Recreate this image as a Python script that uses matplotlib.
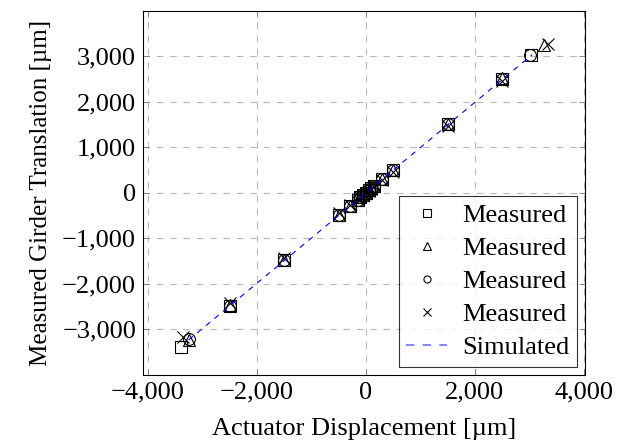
import matplotlib.pyplot as plt
from matplotlib.ticker import FuncFormatter

plt.rcParams['font.family'] = ['Liberation Serif', 'DejaVu Serif']

# Datos (um)
x_sq = [-3400, -2500, -1500, -500, -300, -150, -100, -50, 0, 50, 100, 150, 300, 500, 1500, 2500, 3030]
y_sq = [-3380, -2480, -1480, -480, -290, -150, -100, -50, 0, 50, 100, 150, 300, 500, 1500, 2500, 3020]

x_tri = [-3250, -2500, -1500, -500, -300, -150, -100, -50, 0, 50, 100, 150, 300, 500, 1500, 2500, 3260]
y_tri = [-3230, -2470, -1470, -480, -290, -150, -100, -50, 0, 50, 100, 150, 300, 510, 1510, 2510, 3240]

x_circ = [-3250, -2500, -1500, -500, -300, -150, -100, -50, 0, 50, 100, 150, 300, 500, 1500, 2500, 3020]
y_circ = [-3220, -2480, -1480, -480, -290, -150, -100, -50, 0, 50, 100, 150, 300, 500, 1500, 2500, 3020]

x_x = [-3350, -2500, -1500, -500, -300, -150, -100, -50, 0, 50, 100, 150, 300, 500, 1500, 2500, 3340]
y_x = [-3160, -2420, -1430, -440, -270, -140, -90, -45, 0, 45, 90, 140, 270, 460, 1460, 2450, 3260]

x_sim = [-3250, 3050]
y_sim = [-3230, 3030]

fig = plt.figure(figsize=(6.23, 4.48), dpi=100)
ax = fig.add_axes([0.2295, 0.163, 0.7095, 0.8124])

mk = dict(linestyle='none', color='black', markerfacecolor='none', markersize=8.5, markeredgewidth=0.8)
ax.plot(x_sq, y_sq, marker='s', label='Measured', **mk)
ax.plot(x_tri, y_tri, marker='^', label='Measured', **mk)
ax.plot(x_circ, y_circ, marker='o', label='Measured', **mk)
ax.plot(x_x, y_x, marker='x', label='Measured', **mk)
ax.plot(x_sim, y_sim, color='blue', linestyle=(0, (5, 5)), linewidth=0.8, label='Simulated')

ax.set_xlim(-4090, 4020)
ax.set_ylim(-4000, 3990)
ax.set_xticks([-4000, -2000, 0, 2000, 4000])
ax.set_yticks([-3000, -2000, -1000, 0, 1000, 2000, 3000])

fmt = FuncFormatter(lambda v, p: ('{:,.0f}'.format(v)).replace('-', '\u2212'))
ax.xaxis.set_major_formatter(fmt)
ax.yaxis.set_major_formatter(fmt)

ax.grid(True, color='#b8b8b8', linestyle=(0, (6, 6)), linewidth=0.8)
ax.tick_params(direction='in', top=True, right=True, length=4, width=0.6, color='#777777',
               labelsize=19, pad=5)
for s in ax.spines.values():
    s.set_linewidth(0.8)

ax.set_xlabel('Actuator Displacement [µm]', fontsize=19, labelpad=10)
ax.set_ylabel('Measured Girder Translation [µm]', fontsize=18, labelpad=7)

leg = ax.legend(loc='lower right', fontsize=19, frameon=True, fancybox=False, edgecolor='black',
                markerscale=0.6, handlelength=1.55, handletextpad=0.55, borderaxespad=0.3,
                labelspacing=0.36, borderpad=0.3)
leg.get_frame().set_linewidth(0.8)
# linea de la leyenda en azul claro, como en el original
sim_handle = leg.legend_handles[-1]
sim_handle.set_color('#6f6fff')
sim_handle.set_linewidth(1.2)

fig.savefig('out.png', dpi=100)
